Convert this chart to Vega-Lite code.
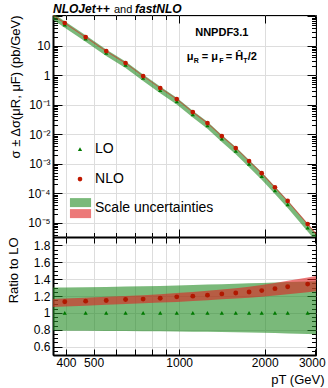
{
  "$schema": "https://vega.github.io/schema/vega-lite/v6.json",
  "padding": {"left": 6, "top": 2, "right": 0, "bottom": 0},
  "config": {
    "font": "Liberation Sans",
    "view": {"stroke": "black", "strokeWidth": 1},
    "axis": {"labelFont": "Liberation Sans", "titleFont": "Liberation Sans", "labelColor": "black", "titleColor": "black", "tickColor": "black", "domainColor": "black", "labelFlush": false}
  },
  "datasets": {
    "pts": [
      {"pt": 396, "nlo": 59, "lo": 52.1, "ratio": 1.132, "lo_ratio": 1},
      {"pt": 469, "nlo": 19.7, "lo": 17.3, "ratio": 1.139, "lo_ratio": 1},
      {"pt": 554, "nlo": 6.6, "lo": 5.75, "ratio": 1.147, "lo_ratio": 1},
      {"pt": 648, "nlo": 2.6, "lo": 2.24, "ratio": 1.159, "lo_ratio": 1},
      {"pt": 747, "nlo": 0.94, "lo": 0.808, "ratio": 1.163, "lo_ratio": 1},
      {"pt": 858, "nlo": 0.37, "lo": 0.315, "ratio": 1.174, "lo_ratio": 1},
      {"pt": 981, "nlo": 0.156, "lo": 0.131, "ratio": 1.19, "lo_ratio": 1},
      {"pt": 1117, "nlo": 0.0566, "lo": 0.0472, "ratio": 1.198, "lo_ratio": 1},
      {"pt": 1258, "nlo": 0.024, "lo": 0.0198, "ratio": 1.21, "lo_ratio": 1},
      {"pt": 1413, "nlo": 0.0087, "lo": 0.0071, "ratio": 1.225, "lo_ratio": 1},
      {"pt": 1582, "nlo": 0.0034, "lo": 0.00275, "ratio": 1.236, "lo_ratio": 1},
      {"pt": 1762, "nlo": 0.00123, "lo": 0.000986, "ratio": 1.248, "lo_ratio": 1},
      {"pt": 1952, "nlo": 0.00048, "lo": 0.00038, "ratio": 1.264, "lo_ratio": 1},
      {"pt": 2173, "nlo": 0.00016, "lo": 0.000124, "ratio": 1.287, "lo_ratio": 1},
      {"pt": 2409, "nlo": 0.000055, "lo": 0.000042, "ratio": 1.31, "lo_ratio": 1},
      {"pt": 2832, "nlo": 0.0000091, "lo": 0.0000068, "ratio": 1.341, "lo_ratio": 1}
    ],
    "bands": [
      {"pt": 340, "glo": 110.6, "ghi": 182, "rlo": 149.1, "rhi": 162.4, "rg_lo": 0.79, "rg_hi": 1.3, "rr_lo": 1.065, "rr_hi": 1.16},
      {"pt": 396, "glo": 41.05, "ghi": 67.83, "rlo": 56.0, "rhi": 60.96, "rg_lo": 0.788, "rg_hi": 1.302, "rr_lo": 1.075, "rr_hi": 1.17},
      {"pt": 469, "glo": 13.62, "ghi": 22.58, "rlo": 18.77, "rhi": 20.38, "rg_lo": 0.787, "rg_hi": 1.305, "rr_lo": 1.085, "rr_hi": 1.178},
      {"pt": 554, "glo": 4.52, "ghi": 7.52, "rlo": 6.3, "rhi": 6.84, "rg_lo": 0.786, "rg_hi": 1.308, "rr_lo": 1.095, "rr_hi": 1.19},
      {"pt": 648, "glo": 1.758, "ghi": 2.939, "rlo": 2.475, "rhi": 2.688, "rg_lo": 0.785, "rg_hi": 1.312, "rr_lo": 1.105, "rr_hi": 1.2},
      {"pt": 747, "glo": 0.633, "ghi": 1.063, "rlo": 0.899, "rhi": 0.978, "rg_lo": 0.783, "rg_hi": 1.316, "rr_lo": 1.113, "rr_hi": 1.21},
      {"pt": 858, "glo": 0.246, "ghi": 0.416, "rlo": 0.353, "rhi": 0.385, "rg_lo": 0.781, "rg_hi": 1.32, "rr_lo": 1.122, "rr_hi": 1.222},
      {"pt": 981, "glo": 0.102, "ghi": 0.1736, "rlo": 0.148, "rhi": 0.1618, "rg_lo": 0.779, "rg_hi": 1.325, "rr_lo": 1.13, "rr_hi": 1.235},
      {"pt": 1117, "glo": 0.03667, "ghi": 0.06278, "rlo": 0.0538, "rhi": 0.0589, "rg_lo": 0.777, "rg_hi": 1.33, "rr_lo": 1.14, "rr_hi": 1.248},
      {"pt": 1258, "glo": 0.01535, "ghi": 0.02643, "rlo": 0.02277, "rhi": 0.02499, "rg_lo": 0.775, "rg_hi": 1.335, "rr_lo": 1.15, "rr_hi": 1.262},
      {"pt": 1413, "glo": 0.005481, "ghi": 0.009514, "rlo": 0.008236, "rhi": 0.009067, "rg_lo": 0.772, "rg_hi": 1.34, "rr_lo": 1.16, "rr_hi": 1.277},
      {"pt": 1582, "glo": 0.002115, "ghi": 0.0037, "rlo": 0.003218, "rhi": 0.003556, "rg_lo": 0.769, "rg_hi": 1.345, "rr_lo": 1.17, "rr_hi": 1.293},
      {"pt": 1762, "glo": 0.000755, "ghi": 0.001331, "rlo": 0.001163, "rhi": 0.001292, "rg_lo": 0.766, "rg_hi": 1.35, "rr_lo": 1.18, "rr_hi": 1.31},
      {"pt": 1952, "glo": 0.00029, "ghi": 0.000515, "rlo": 0.000452, "rhi": 0.000505, "rg_lo": 0.763, "rg_hi": 1.355, "rr_lo": 1.19, "rr_hi": 1.33},
      {"pt": 2173, "glo": 0.0000942, "ghi": 0.0001686, "rlo": 0.0001494, "rhi": 0.000168, "rg_lo": 0.76, "rg_hi": 1.36, "rr_lo": 1.205, "rr_hi": 1.355},
      {"pt": 2409, "glo": 0.00003175, "ghi": 0.00005733, "rlo": 0.00005124, "rhi": 0.00005796, "rg_lo": 0.756, "rg_hi": 1.365, "rr_lo": 1.22, "rr_hi": 1.38},
      {"pt": 2832, "glo": 0.0000051, "ghi": 0.00000933, "rlo": 0.00000847, "rhi": 0.00000966, "rg_lo": 0.75, "rg_hi": 1.372, "rr_lo": 1.245, "rr_hi": 1.42},
      {"pt": 3100, "glo": 0.00000179, "ghi": 0.0000033, "rlo": 0.00000302, "rhi": 0.00000347, "rg_lo": 0.746, "rg_hi": 1.377, "rr_lo": 1.26, "rr_hi": 1.445}
    ]
  },
  "vconcat": [
    {
      "width": 263,
      "height": 222,
      "resolve": {"axis": {"x": "independent", "y": "independent"}},
      "layer": [
        {
          "data": {"name": "bands"},
          "mark": {"type": "area", "color": "#228B22", "opacity": 0.6, "clip": true},
          "encoding": {
            "x": {"field": "pt", "type": "quantitative", "scale": {"type": "log", "domain": [360, 3030], "nice": false},
              "axis": {"orient": "bottom", "values": [400, 500, 600, 700, 800, 900, 1000, 2000, 3000], "labels": false, "title": null,
                "tickSize": {"condition": {"test": "datum.value==1000||datum.value==2000", "value": -8}, "value": -4.5},
                "domainWidth": 2, "grid": true, "gridColor": "#dddddd"}},
            "y": {"field": "glo", "type": "quantitative", "scale": {"type": "log", "domain": [0.0000033, 110], "nice": false},
              "axis": {"orient": "left",
                "values": [0.000004, 0.000005, 0.000006, 0.000007, 0.000008, 0.000009, 0.00001, 0.00002, 0.00003, 0.00004, 0.00005, 0.00006, 0.00007, 0.00008, 0.00009, 0.0001, 0.0002, 0.0003, 0.0004, 0.0005, 0.0006, 0.0007, 0.0008, 0.0009, 0.001, 0.002, 0.003, 0.004, 0.005, 0.006, 0.007, 0.008, 0.009, 0.01, 0.02, 0.03, 0.04, 0.05, 0.06, 0.07, 0.08, 0.09, 0.1, 0.2, 0.3, 0.4, 0.5, 0.6, 0.7, 0.8, 0.9, 1, 2, 3, 4, 5, 6, 7, 8, 9, 10, 20, 30, 40, 50, 60, 70, 80, 90, 100],
                "labelExpr": "datum.value==10?'10':datum.value==1?'1':datum.value==0.1?'10⁻¹':datum.value==0.01?'10⁻²':datum.value==0.001?'10⁻³':datum.value==0.0001?'10⁻⁴':datum.value==0.00001?'10⁻⁵':''",
                "labelOverlap": false, "labelFontSize": 12, "labelPadding": 12,
                "tickSize": {"condition": {"test": "abs(log(datum.value)/LN10 - round(log(datum.value)/LN10)) < 0.01", "value": -9}, "value": -4.5},
                "domainWidth": 2, "grid": true, "gridColor": "#dddddd",
                "gridOpacity": {"condition": {"test": "abs(log(datum.value)/LN10 - round(log(datum.value)/LN10)) < 0.01", "value": 1}, "value": 0},
                "title": "σ ± Δσ(μR, μF) (pb/GeV)", "titleFontSize": 13, "titleFontWeight": "normal", "titleAnchor": "end", "titleX": -31}},
            "y2": {"field": "ghi"}
          }
        },
        {
          "data": {"name": "bands"},
          "mark": {"type": "area", "color": "#e02020", "opacity": 0.6, "clip": true},
          "encoding": {
            "x": {"field": "pt", "type": "quantitative",
              "axis": {"orient": "top", "values": [400, 500, 600, 700, 800, 900, 1000, 2000, 3000], "labels": false, "title": null, "domain": false, "grid": false,
                "tickSize": {"condition": {"test": "datum.value==1000||datum.value==2000", "value": -8}, "value": -4.5}}},
            "y": {"field": "rlo", "type": "quantitative",
              "axis": {"orient": "right",
                "values": [0.000004, 0.000005, 0.000006, 0.000007, 0.000008, 0.000009, 0.00001, 0.00002, 0.00003, 0.00004, 0.00005, 0.00006, 0.00007, 0.00008, 0.00009, 0.0001, 0.0002, 0.0003, 0.0004, 0.0005, 0.0006, 0.0007, 0.0008, 0.0009, 0.001, 0.002, 0.003, 0.004, 0.005, 0.006, 0.007, 0.008, 0.009, 0.01, 0.02, 0.03, 0.04, 0.05, 0.06, 0.07, 0.08, 0.09, 0.1, 0.2, 0.3, 0.4, 0.5, 0.6, 0.7, 0.8, 0.9, 1, 2, 3, 4, 5, 6, 7, 8, 9, 10, 20, 30, 40, 50, 60, 70, 80, 90, 100],
                "labels": false, "title": null, "domain": false, "grid": false,
                "tickSize": {"condition": {"test": "abs(log(datum.value)/LN10 - round(log(datum.value)/LN10)) < 0.01", "value": -9}, "value": -4.5}}},
            "y2": {"field": "rhi"}
          }
        },
        {
          "data": {"name": "pts"},
          "mark": {"type": "point", "shape": "triangle-up", "filled": true, "color": "#007a00", "opacity": 1, "size": 18},
          "encoding": {
            "x": {"field": "pt", "type": "quantitative", "axis": null},
            "y": {"field": "lo", "type": "quantitative", "axis": null}
          }
        },
        {
          "data": {"name": "pts"},
          "mark": {"type": "point", "shape": "circle", "filled": true, "color": "#c01800", "opacity": 1, "size": 22},
          "encoding": {
            "x": {"field": "pt", "type": "quantitative", "axis": null},
            "y": {"field": "nlo", "type": "quantitative", "axis": null}
          }
        },
        {
          "data": {"values": [{}]},
          "mark": {"type": "point", "shape": "triangle-up", "filled": true, "color": "#007a00", "opacity": 1, "size": 18},
          "encoding": {"x": {"datum": 448, "type": "quantitative", "axis": null}, "y": {"datum": 0.00315, "type": "quantitative", "axis": null}}
        },
        {
          "data": {"values": [{}]},
          "mark": {"type": "point", "shape": "circle", "filled": true, "color": "#c01800", "opacity": 1, "size": 22},
          "encoding": {"x": {"datum": 448, "type": "quantitative", "axis": null}, "y": {"datum": 0.000303, "type": "quantitative", "axis": null}}
        },
        {
          "data": {"values": [{}]},
          "mark": {"type": "rect", "color": "#228B22", "opacity": 0.6},
          "encoding": {"x": {"datum": 413, "type": "quantitative", "axis": null}, "x2": {"datum": 490}, "y": {"datum": 0.0000687, "type": "quantitative", "axis": null}, "y2": {"datum": 0.000034}}
        },
        {
          "data": {"values": [{}]},
          "mark": {"type": "rect", "color": "#e02020", "opacity": 0.6},
          "encoding": {"x": {"datum": 413, "type": "quantitative", "axis": null}, "x2": {"datum": 490}, "y": {"datum": 0.0000291, "type": "quantitative", "axis": null}, "y2": {"datum": 0.0000144}}
        },
        {
          "data": {"values": [{}]},
          "mark": {"type": "text", "text": "LO", "align": "left", "baseline": "middle", "fontSize": 14, "font": "Liberation Sans"},
          "encoding": {"x": {"datum": 506, "type": "quantitative", "axis": null}, "y": {"datum": 0.00315, "type": "quantitative", "axis": null}}
        },
        {
          "data": {"values": [{}]},
          "mark": {"type": "text", "text": "NLO", "align": "left", "baseline": "middle", "fontSize": 14, "font": "Liberation Sans"},
          "encoding": {"x": {"datum": 506, "type": "quantitative", "axis": null}, "y": {"datum": 0.000303, "type": "quantitative", "axis": null}}
        },
        {
          "data": {"values": [{}]},
          "mark": {"type": "text", "text": "Scale uncertainties", "align": "left", "baseline": "middle", "fontSize": 14, "font": "Liberation Sans"},
          "encoding": {"x": {"datum": 506, "type": "quantitative", "axis": null}, "y": {"datum": 0.0000316, "type": "quantitative", "axis": null}}
        },
        {
          "data": {"values": [{}]},
          "mark": {"type": "text", "text": "NNPDF3.1", "align": "center", "baseline": "middle", "fontSize": 11, "fontWeight": "bold", "font": "Liberation Sans"},
          "encoding": {"x": {"datum": 1413, "type": "quantitative", "axis": null}, "y": {"datum": 27, "type": "quantitative", "axis": null}}
        },
        {
          "data": {"values": [{}]},
          "mark": {"type": "text", "text": "μ", "align": "left", "baseline": "middle", "fontSize": 11, "fontWeight": "bold", "font": "Liberation Sans"},
          "encoding": {"x": {"datum": 1064, "type": "quantitative", "axis": null}, "y": {"datum": 4.1, "type": "quantitative", "axis": null}}
        },
        {
          "data": {"values": [{}]},
          "mark": {"type": "text", "text": "R", "align": "left", "baseline": "middle", "fontSize": 7, "fontWeight": "bold", "font": "Liberation Sans", "dx": 7, "dy": 4},
          "encoding": {"x": {"datum": 1064, "type": "quantitative", "axis": null}, "y": {"datum": 4.1, "type": "quantitative", "axis": null}}
        },
        {
          "data": {"values": [{}]},
          "mark": {"type": "text", "text": "= μ", "align": "left", "baseline": "middle", "fontSize": 11, "fontWeight": "bold", "font": "Liberation Sans", "dx": 15},
          "encoding": {"x": {"datum": 1064, "type": "quantitative", "axis": null}, "y": {"datum": 4.1, "type": "quantitative", "axis": null}}
        },
        {
          "data": {"values": [{}]},
          "mark": {"type": "text", "text": "F", "align": "left", "baseline": "middle", "fontSize": 7, "fontWeight": "bold", "font": "Liberation Sans", "dx": 32.5, "dy": 4},
          "encoding": {"x": {"datum": 1064, "type": "quantitative", "axis": null}, "y": {"datum": 4.1, "type": "quantitative", "axis": null}}
        },
        {
          "data": {"values": [{}]},
          "mark": {"type": "text", "text": "= Ĥ", "align": "left", "baseline": "middle", "fontSize": 11, "fontWeight": "bold", "font": "Liberation Sans", "dx": 39},
          "encoding": {"x": {"datum": 1064, "type": "quantitative", "axis": null}, "y": {"datum": 4.1, "type": "quantitative", "axis": null}}
        },
        {
          "data": {"values": [{}]},
          "mark": {"type": "text", "text": "T", "align": "left", "baseline": "middle", "fontSize": 7, "fontWeight": "bold", "font": "Liberation Sans", "dx": 56.5, "dy": 4},
          "encoding": {"x": {"datum": 1064, "type": "quantitative", "axis": null}, "y": {"datum": 4.1, "type": "quantitative", "axis": null}}
        },
        {
          "data": {"values": [{}]},
          "mark": {"type": "text", "text": "/2", "align": "left", "baseline": "middle", "fontSize": 11, "fontWeight": "bold", "font": "Liberation Sans", "dx": 61},
          "encoding": {"x": {"datum": 1064, "type": "quantitative", "axis": null}, "y": {"datum": 4.1, "type": "quantitative", "axis": null}}
        },
        {
          "data": {"values": [{}]},
          "mark": {"type": "text", "text": "NLOJet++", "align": "left", "baseline": "alphabetic", "fontSize": 12, "fontWeight": "bold", "fontStyle": "italic", "font": "Liberation Sans", "dy": -2},
          "encoding": {"x": {"datum": 360, "type": "quantitative", "axis": null}, "y": {"datum": 110, "type": "quantitative", "axis": null}}
        },
        {
          "data": {"values": [{}]},
          "mark": {"type": "text", "text": "and", "align": "left", "baseline": "alphabetic", "fontSize": 11, "font": "Liberation Sans", "dx": 61, "dy": -2},
          "encoding": {"x": {"datum": 360, "type": "quantitative", "axis": null}, "y": {"datum": 110, "type": "quantitative", "axis": null}}
        },
        {
          "data": {"values": [{}]},
          "mark": {"type": "text", "text": "fastNLO", "align": "left", "baseline": "alphabetic", "fontSize": 12, "fontWeight": "bold", "fontStyle": "italic", "font": "Liberation Sans", "dx": 82, "dy": -2},
          "encoding": {"x": {"datum": 360, "type": "quantitative", "axis": null}, "y": {"datum": 110, "type": "quantitative", "axis": null}}
        }
      ]
    },
    {
      "width": 263,
      "height": 118,
      "resolve": {"axis": {"x": "independent", "y": "independent"}},
      "layer": [
        {
          "data": {"name": "bands"},
          "mark": {"type": "area", "color": "#228B22", "opacity": 0.6, "clip": true},
          "encoding": {
            "x": {"field": "pt", "type": "quantitative", "scale": {"type": "log", "domain": [360, 3030], "nice": false},
              "axis": {"orient": "bottom", "values": [400, 500, 600, 700, 800, 900, 1000, 2000, 3000],
                "labelExpr": "datum.value==400||datum.value==500||datum.value==1000||datum.value==2000||datum.value==3000 ? ''+datum.value : ''",
                "labelOffset": {"condition": {"test": "datum.value==3000", "value": -3}, "value": 0},
                "labelOverlap": false, "labelFontSize": 12, "labelPadding": 8, "tickSize": -6,
                "domainWidth": 2, "grid": true, "gridColor": "#dddddd",
                "title": "pT (GeV)", "titleFontSize": 13, "titleFontWeight": "normal", "titleAnchor": "end", "titleAlign": "right", "titleX": 271, "titleY": 28, "titleBaseline": "alphabetic"}},
            "y": {"field": "rg_lo", "type": "quantitative", "scale": {"domain": [0.5, 1.9], "nice": false, "zero": false},
              "axis": {"orient": "left",
                "values": [0.5, 0.55, 0.6, 0.65, 0.7, 0.75, 0.8, 0.85, 0.9, 0.95, 1, 1.05, 1.1, 1.15, 1.2, 1.25, 1.3, 1.35, 1.4, 1.45, 1.5, 1.55, 1.6, 1.65, 1.7, 1.75, 1.8, 1.85, 1.9],
                "labelExpr": "abs(datum.value*5-round(datum.value*5))<0.001 ? format(datum.value,'~g') : ''",
                "labelOverlap": false, "labelFontSize": 12, "labelPadding": 12,
                "tickSize": {"condition": {"test": "abs(datum.value*5-round(datum.value*5))<0.001", "value": -9}, "value": -4.5},
                "domainWidth": 2, "grid": true, "gridColor": "#dddddd",
                "gridOpacity": {"condition": {"test": "abs(datum.value*5-round(datum.value*5))<0.001", "value": 1}, "value": 0},
                "title": "Ratio to LO", "titleFontSize": 13, "titleFontWeight": "normal", "titleAnchor": "end", "titleX": -33}},
            "y2": {"field": "rg_hi"}
          }
        },
        {
          "data": {"name": "bands"},
          "mark": {"type": "area", "color": "#e02020", "opacity": 0.6, "clip": true},
          "encoding": {
            "x": {"field": "pt", "type": "quantitative",
              "axis": {"orient": "top", "values": [400, 500, 600, 700, 800, 900, 1000, 2000, 3000], "labels": false, "title": null, "domain": false, "grid": false, "tickSize": -6}},
            "y": {"field": "rr_lo", "type": "quantitative",
              "axis": {"orient": "right",
                "values": [0.5, 0.55, 0.6, 0.65, 0.7, 0.75, 0.8, 0.85, 0.9, 0.95, 1, 1.05, 1.1, 1.15, 1.2, 1.25, 1.3, 1.35, 1.4, 1.45, 1.5, 1.55, 1.6, 1.65, 1.7, 1.75, 1.8, 1.85, 1.9],
                "labels": false, "title": null, "domain": false, "grid": false,
                "tickSize": {"condition": {"test": "abs(datum.value*5-round(datum.value*5))<0.001", "value": -9}, "value": -4.5}}},
            "y2": {"field": "rr_hi"}
          }
        },
        {
          "data": {"name": "pts"},
          "mark": {"type": "point", "shape": "triangle-up", "filled": true, "color": "#007a00", "opacity": 1, "size": 18},
          "encoding": {
            "x": {"field": "pt", "type": "quantitative", "axis": null},
            "y": {"field": "lo_ratio", "type": "quantitative", "axis": null}
          }
        },
        {
          "data": {"name": "pts"},
          "mark": {"type": "point", "shape": "circle", "filled": true, "color": "#b01800", "opacity": 1, "size": 24},
          "encoding": {
            "x": {"field": "pt", "type": "quantitative", "axis": null},
            "y": {"field": "ratio", "type": "quantitative", "axis": null}
          }
        }
      ]
    }
  ],
  "spacing": 0,
  "bounds": "flush"
}
